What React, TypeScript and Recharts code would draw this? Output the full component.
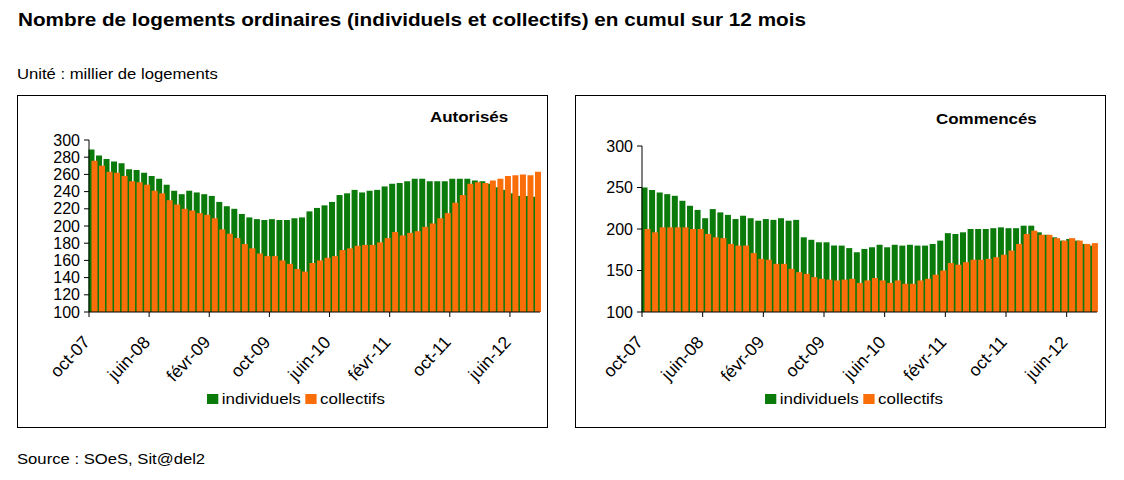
import React from "react";
import { BarChart, Bar, XAxis, YAxis } from "recharts";

// mois d'oct-07 à sept-12 (60 mois)
const months = [
  "oct-07", "nov-07", "déc-07", "janv-08", "févr-08", "mars-08", "avr-08", "mai-08",
  "juin-08", "juil-08", "août-08", "sept-08", "oct-08", "nov-08", "déc-08", "janv-09",
  "févr-09", "mars-09", "avr-09", "mai-09", "juin-09", "juil-09", "août-09", "sept-09",
  "oct-09", "nov-09", "déc-09", "janv-10", "févr-10", "mars-10", "avr-10", "mai-10",
  "juin-10", "juil-10", "août-10", "sept-10", "oct-10", "nov-10", "déc-10", "janv-11",
  "févr-11", "mars-11", "avr-11", "mai-11", "juin-11", "juil-11", "août-11", "sept-11",
  "oct-11", "nov-11", "déc-11", "janv-12", "févr-12", "mars-12", "avr-12", "mai-12",
  "juin-12", "juil-12", "août-12", "sept-12",
];

// Autorisés (milliers, cumul 12 mois)
const autIndividuels = [
  289, 282, 278, 275, 273, 266, 265, 262, 258, 255, 248, 241, 237, 241, 239, 237,
  235, 228, 223, 220, 214, 210, 208, 207, 208, 207, 207, 209, 210, 217, 221, 224,
  228, 236, 238, 242, 239, 241, 242, 246, 249, 250, 252, 255, 255, 252, 252, 252,
  255, 255, 255, 253, 252, 249, 245, 242, 238, 235, 235, 234,
];
const autCollectifs = [
  276, 270, 263, 262, 258, 252, 251, 248, 241, 238, 230, 225, 220, 218, 215, 213,
  209, 196, 191, 186, 179, 174, 168, 165, 165, 160, 156, 150, 147, 157, 160, 163,
  165, 172, 174, 177, 178, 178, 181, 186, 193, 189, 192, 194, 199, 203, 209, 215,
  227, 236, 249, 251, 250, 253, 255, 258, 259, 260, 259, 263,
];

// Commencés
const comIndividuels = [
  250, 247, 244, 242, 240, 234, 228, 223, 213, 224, 220, 217, 212, 216, 213, 210,
  212, 211, 213, 210, 211, 190, 187, 184, 184, 180, 180, 177, 172, 176, 178, 181,
  178, 181, 180, 181, 180, 180, 182, 186, 195, 194, 196, 200, 200, 200, 201, 202,
  201, 201, 204, 204, 196, 193, 190, 186, 188, 186, 182, 180,
];
const comCollectifs = [
  200, 196, 202, 202, 202, 202, 200, 200, 194, 190, 189, 182, 180, 180, 171, 164,
  163, 158, 158, 152, 148, 146, 142, 140, 139, 138, 139, 140, 135, 138, 141, 138,
  135, 138, 134, 134, 138, 140, 145, 150, 159, 157, 160, 163, 163, 164, 166, 169,
  174, 182, 194, 198, 193, 193, 189, 186, 189, 186, 182, 183,
];

const autTicks = [100, 120, 140, 160, 180, 200, 220, 240, 260, 280, 300];
const comTicks = [100, 150, 200, 250, 300];

const GREEN = "#0a7a0a";
const ORANGE = "#fa6e0a";
const FONT = "'Liberation Sans', Arial, sans-serif";

const autData = months.map((m, i) => ({ m, ind: autIndividuels[i], col: autCollectifs[i] }));
const comData = months.map((m, i) => ({ m, ind: comIndividuels[i], col: comCollectifs[i] }));

const stretch = (k: number) => ({ transform: `scaleX(${k})`, transformOrigin: "left top" });

function MonthTick(props: any) {
  const { x, y, payload, half } = props;
  const bx = x - half;
  const ax = bx + 2;
  const ay = y + 31;
  return (
    <g>
      <line x1={bx} x2={bx} y1={y} y2={y + 5} stroke="#000" />
      <text x={ax} y={ay} textAnchor="end" fontSize={17.5} fill="#000" fontFamily={FONT}
        transform={`rotate(-47, ${ax}, ${ay})`}>
        {payload.value}
      </text>
    </g>
  );
}

function LegendBox() {
  return (
    <div style={{ display: "flex", alignItems: "center", fontSize: 15, fontFamily: FONT, color: "#000", ...stretch(1.13) }}>
      <span style={{ width: 10, height: 10, background: GREEN, display: "inline-block", marginRight: 3 }} />
      <span style={{ marginRight: 4 }}>individuels</span>
      <span style={{ width: 10, height: 10, background: ORANGE, display: "inline-block", marginRight: 3 }} />
      <span>collectifs</span>
    </div>
  );
}

function Panel(props: {
  left: number; title: string; titleLeft: number; titleTop: number;
  data: any[]; ticks: number[]; yWidth: number; top: number; right: number;
}) {
  const { left, title, titleLeft, titleTop, data, ticks, yWidth, top, right } = props;
  const plotW = 528 - yWidth - right;
  const half = plotW / months.length / 2;
  return (
    <div style={{ position: "absolute", left, top: 95, width: 529, height: 331, border: "1px solid #000" }}>
      <div style={{ position: "absolute", left: titleLeft, top: titleTop, fontWeight: "bold", fontSize: 15, fontFamily: FONT, ...stretch(1.13) }}>
        {title}
      </div>
      <div style={{ position: "absolute", left: 0, top: 0 }}>
        <BarChart width={528} height={330} data={data}
          margin={{ top, right, bottom: 330 - 216 - 70, left: 0 }}
          barCategoryGap={-0.5} barGap={-3}>
          <XAxis dataKey="m" interval={7} height={70} tickLine={false} tickSize={0} tickMargin={0}
            axisLine={{ stroke: "#000" }} tick={(p: any) => <MonthTick {...p} half={half} />} />
          <YAxis domain={[100, 300]} ticks={ticks} width={yWidth} interval={0}
            axisLine={{ stroke: "#000" }} tickLine={{ stroke: "#000" }} tickSize={5} tickMargin={4}
            tick={{ fill: "#000", fontSize: 16, fontFamily: FONT }} allowDataOverflow />
          <Bar dataKey="ind" name="individuels" fill={GREEN} isAnimationActive={false} />
          <Bar dataKey="col" name="collectifs" fill={ORANGE} isAnimationActive={false} />
        </BarChart>
      </div>
      <div style={{ position: "absolute", left: 189, top: 294 }}>
        <LegendBox />
      </div>
    </div>
  );
}

export default function App() {
  return (
    <div style={{ position: "absolute", left: 0, top: 0, width: 1124, height: 480, background: "#fff", fontFamily: FONT, color: "#000" }}>
      <div style={{ position: "absolute", left: 18, top: 10, fontSize: 18, fontWeight: "bold", whiteSpace: "nowrap", ...stretch(1.15) }}>
        Nombre de logements ordinaires (individuels et collectifs) en cumul sur 12 mois
      </div>
      <div style={{ position: "absolute", left: 17, top: 65, fontSize: 15, whiteSpace: "nowrap", ...stretch(1.11) }}>
        Unité : millier de logements
      </div>
      <Panel left={17} title="Autorisés" titleLeft={412} titleTop={12}
        data={autData} ticks={autTicks} yWidth={71} top={44} right={6} />
      <Panel left={575} title="Commencés" titleLeft={360} titleTop={14}
        data={comData} ticks={comTicks} yWidth={66} top={50} right={7} />
      <div style={{ position: "absolute", left: 17, top: 450, fontSize: 15, whiteSpace: "nowrap", ...stretch(1.11) }}>
        Source : SOeS, Sit@del2
      </div>
    </div>
  );
}
